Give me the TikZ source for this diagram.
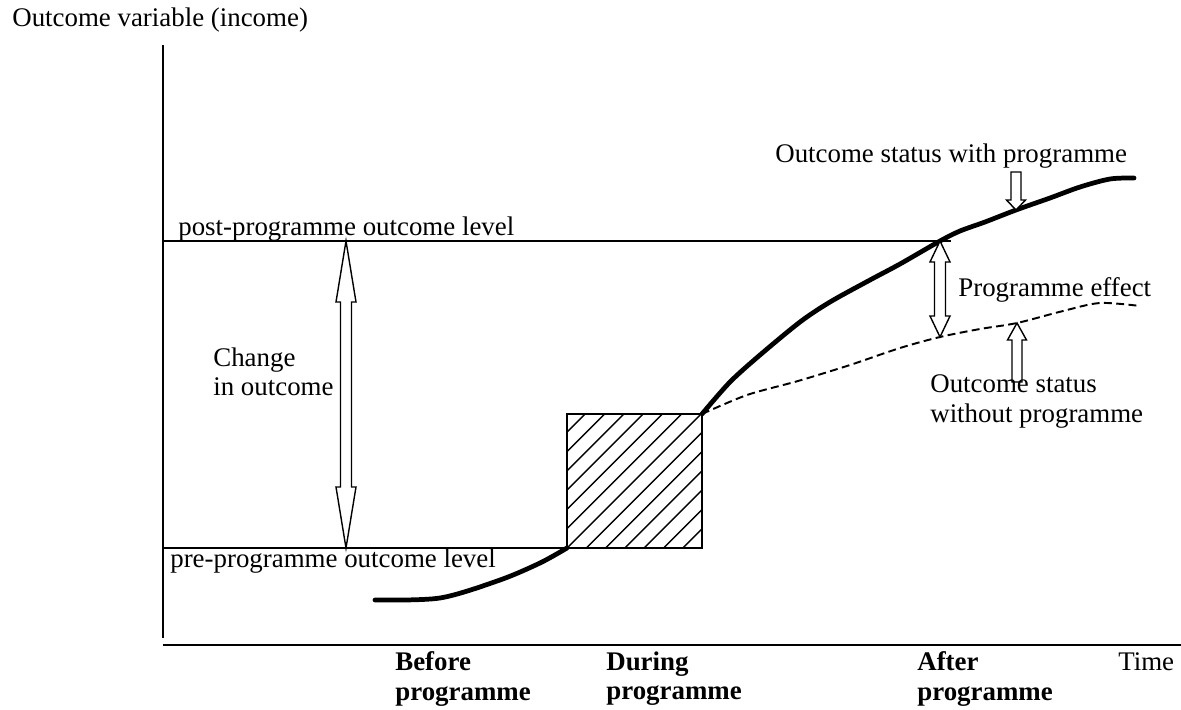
\documentclass[tikz,border=0pt]{standalone}
\usepackage{fontspec}
\setmainfont{Liberation Serif}
\usetikzlibrary{calc}

\tikzset{
  lbl/.style = {inner sep=0pt, anchor=base west, font=\fontsize{15.3}{17}\selectfont},
  lbl2/.style = {lbl, anchor=north west, align=left},
  phase/.style = {lbl2, font=\fontsize{15.3}{17}\selectfont\bfseries},
  axis/.style = {line width=1pt},
  level/.style = {line width=0.7pt},
  withprog/.style = {line width=2.7pt, line cap=round, line join=round},
  noprog/.style = {line width=1.1pt, dash pattern=on 4.5pt off 2.5pt},
  hatch/.style = {line width=0.8pt},
  blockarrow/.style = {draw, fill=white, line width=0.8pt},
}

% hollow block arrows: tip/top, tail/bottom, head length (px)
\newcommand\hollowdouble[3]{%
  \draw[blockarrow] (#1) -- ++(10,#3) -- ++(-4.5,0) -- ($(#2)+(5.5,-#3)$)
    -- ++(4.5,0) -- (#2) -- ++(-10,-#3) -- ++(4.5,0)
    -- ($(#1)+(-5.5,#3)$) -- ++(-4.5,0) -- cycle;}
\newcommand\hollowsingle[3]{%
  \draw[blockarrow] (#1) -- ++(9.5,#3) -- ++(-4.5,0) -- ($(#2)+(5,0)$)
    -- ++(-10,0) -- ($(#1)+(-5,#3)$) -- ++(-4.5,0) -- cycle;}

\begin{document}
\begin{tikzpicture}[x=0.02cm, y=-0.02cm]
\useasboundingbox (0,0) rectangle (1181,710);

% axes
\coordinate (ytop) at (163,45);
\coordinate (ybot) at (163,638);
\coordinate (xleft) at (163,645);
\coordinate (xright) at (1181,645);
\draw[axis] (ytop) -- (ybot);
\draw[axis] (xleft) -- (xright);

% outcome levels
\coordinate (postL) at (163,241);
\coordinate (postR) at (951,241);
\coordinate (preL) at (163,548);
\coordinate (boxsw) at (567,548);
\coordinate (boxne) at (702,414);
\draw[level] (postL) -- (postR);
\draw[level] (preL) -- (boxsw);

% arrow ends
\coordinate (chgtop) at (346,241);
\coordinate (chgbot) at (346,548);
\coordinate (efftop) at (940,241);
\coordinate (effbot) at (940,337);
\coordinate (withtip) at (1016,210);
\coordinate (withtail) at (1016,172);
\coordinate (wotip) at (1017,323);
\coordinate (wotail) at (1017,382);

% outcome curves
\draw[withprog] plot[smooth, tension=0.5] coordinates
  {(375,600) (440,598) (500,580) (540,563) (boxsw)};
\draw[withprog] plot[smooth, tension=0.5] coordinates
  {(boxne) (730,382) (760,355) (800,322) (830,302) (870,280) (900,264)
   (efftop) (960,231) (985,222) (withtip) (1050,198) (1080,187) (1110,179) (1134,178)};
\draw[noprog] plot[smooth, tension=0.5] coordinates
  {(boxne) (747,395) (798,381) (850,365) (900,348) (effbot) (980,329)
   (wotip) (1063,311) (1100,303) (1140,306)};

% programme period
\fill[white] (boxsw) rectangle (boxne);
\begin{scope}
  \clip (boxsw) rectangle (boxne);
  \foreach \k in {-7,...,7}
    \draw[hatch] ($(boxsw)+(\k*19.3,0)$) -- ++(150,-150);
\end{scope}
\draw[axis] (boxsw) rectangle (boxne);

\hollowdouble{chgtop}{chgbot}{61}
\hollowdouble{efftop}{effbot}{21}
\hollowsingle{withtip}{withtail}{-10}
\hollowsingle{wotip}{wotail}{17}

% labels
\node[lbl] (title) at (12,27) {Outcome variable (income)};
\node[lbl] (post) at (178,235) {post-programme outcome level};
\node[lbl] (pre) at (170,567) {pre-programme outcome level};
\node[lbl2] (change) at (213,347) {Change\\in outcome};
\node[lbl] (with) at (775,162) {Outcome status with programme};
\node[lbl] (effect) at (958,296) {Programme effect};
\node[lbl2] (without) at (930,374) {Outcome status\\without programme};
\node[phase] (before) at (395,651) {Before\\programme};
\node[phase] (during) at (606,651) {During\\programme};
\node[phase] (after) at (917,651) {After\\programme};
\node[lbl] (time) at (1118,670) {Time};
\end{tikzpicture}
\end{document}
